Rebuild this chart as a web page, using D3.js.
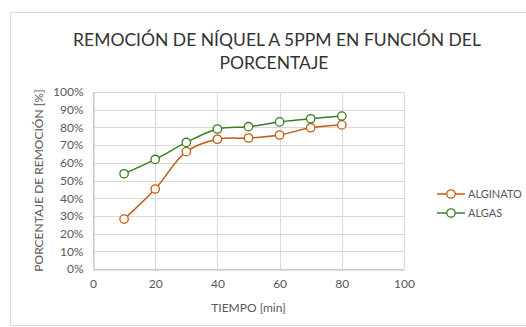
<!DOCTYPE html>
<html>
<head>
<meta charset="utf-8">
<script src="https://cdn.jsdelivr.net/npm/d3@7"></script>
<style>
  body { margin: 0; background: #fff; }
  text { font-family: Lato, "Open Sans", sans-serif; }
</style>
</head>
<body>
<div id="chart"></div>
<script>
// data
var tiempo = [10, 20, 30, 40, 50, 60, 70, 80];
var alginato = [28.2, 45.2, 66.3, 73.3, 74.0, 75.7, 79.8, 81.4];
var algas = [53.8, 61.9, 71.5, 79.1, 80.4, 83.1, 84.9, 86.4];
var seriesNames = ["ALGINATO", "ALGAS"];
var seriesColors = ["#c55a11", "#3b7d23"];
var xTicks = [0, 20, 40, 60, 80, 100];
var yTicks = [0, 10, 20, 30, 40, 50, 60, 70, 80, 90, 100];

var W = 526, H = 327;
var margin = { top: 92, right: 122, bottom: 58, left: 93 };
var width = W - margin.left - margin.right;
var height = H - margin.top - margin.bottom;

var svg = d3.select('#chart')
  .append('svg')
  .attr('width', W)
  .attr('height', H);

// chart frame
svg.append('rect')
  .attr('x', 10.5).attr('y', 12.5)
  .attr('width', W).attr('height', H - 14)
  .attr('fill', 'none')
  .attr('stroke', '#d9d9d9');

// title
var title = svg.append('text')
  .attr('text-anchor', 'middle')
  .attr('fill', '#333')
  .attr('font-size', '17.5px');
title.append('tspan').attr('x', 277).attr('y', 46)
  .text('REMOCIÓN DE NÍQUEL A 5PPM EN FUNCIÓN DEL');
title.append('tspan').attr('x', 274).attr('y', 69)
  .text('PORCENTAJE');

var chart = svg.append('g')
  .attr('transform', 'translate(' + margin.left + ',' + margin.top + ')');

///////////////////////
// Scales
var x = d3.scaleLinear().domain([0, 100]).range([0, width]);
var y = d3.scaleLinear().domain([0, 100]).range([height, 0]);

///////////////////////
// Grid
chart.append('g')
  .selectAll('line')
  .data(yTicks)
  .enter().append('line')
  .attr('x1', 0).attr('x2', width)
  .attr('y1', function(d) { return Math.round(y(d)) + 0.5; })
  .attr('y2', function(d) { return Math.round(y(d)) + 0.5; })
  .attr('stroke', '#d9d9d9');

chart.append('g')
  .selectAll('line')
  .data(xTicks)
  .enter().append('line')
  .attr('y1', 0).attr('y2', height)
  .attr('x1', function(d) { return Math.round(x(d)) + 0.5; })
  .attr('x2', function(d) { return Math.round(x(d)) + 0.5; })
  .attr('stroke', '#d9d9d9');

///////////////////////
// Axis
var xAxis = d3.axisBottom(x).tickValues(xTicks).tickSize(0).tickPadding(10);
var yAxis = d3.axisLeft(y).tickValues(yTicks).tickSize(0).tickPadding(10)
  .tickFormat(function(d) { return d + '%'; });

var gx = chart.append('g')
  .attr('transform', 'translate(0,' + (Math.round(height) + 0.5) + ')')
  .call(xAxis);
var gy = chart.append('g')
  .attr('transform', 'translate(0.5,0)')
  .call(yAxis);

[gx, gy].forEach(function(g) {
  g.select('.domain').attr('stroke', '#bfbfbf');
  g.selectAll('text')
    .attr('fill', '#595959')
    .attr('font-size', '12px')
    .attr('font-family', 'Lato, sans-serif');
});

chart.append('text')
  .attr('x', x(50)).attr('y', height + 43)
  .attr('text-anchor', 'middle')
  .attr('fill', '#595959')
  .attr('font-size', '12px')
  .text('TIEMPO [min]');

chart.append('text')
  .attr('transform', 'translate(-50,' + (height / 2) + ') rotate(-90)')
  .attr('text-anchor', 'middle')
  .attr('fill', '#595959')
  .attr('font-size', '12px')
  .text('PORCENTAJE DE REMOCIÓN [%]');

///////////////////////
// Lines
var allSeries = [alginato, algas];
var line = d3.line()
  .curve(d3.curveCatmullRom.alpha(0.5))
  .x(function(d, i) { return x(tiempo[i]); })
  .y(function(d) { return y(d); });

allSeries.forEach(function(vals, k) {
  chart.append('path')
    .datum(vals)
    .attr('fill', 'none')
    .attr('stroke', seriesColors[k])
    .attr('stroke-width', 1.5)
    .attr('d', line);

  chart.append('g')
    .selectAll('circle')
    .data(vals)
    .enter().append('circle')
    .attr('cx', function(d, i) { return x(tiempo[i]); })
    .attr('cy', function(d) { return y(d); })
    .attr('r', 4.2)
    .attr('fill', '#fff')
    .attr('stroke', seriesColors[k])
    .attr('stroke-width', 1.3);
});

///////////////////////
// Legend
var legend = svg.append('g')
  .selectAll('g')
  .data(seriesNames)
  .enter().append('g')
  .attr('transform', function(d, i) { return 'translate(437,' + (194 + i * 19) + ')'; });

legend.append('line')
  .attr('x1', 0).attr('x2', 28)
  .attr('stroke', function(d, i) { return seriesColors[i]; })
  .attr('stroke-width', 1.5);
legend.append('circle')
  .attr('cx', 14).attr('r', 4.2)
  .attr('fill', '#fff')
  .attr('stroke', function(d, i) { return seriesColors[i]; })
  .attr('stroke-width', 1.3);
legend.append('text')
  .attr('x', 31).attr('dy', '0.35em')
  .attr('fill', '#595959')
  .attr('font-size', '11px')
  .text(function(d) { return d; });
</script>
</body>
</html>
